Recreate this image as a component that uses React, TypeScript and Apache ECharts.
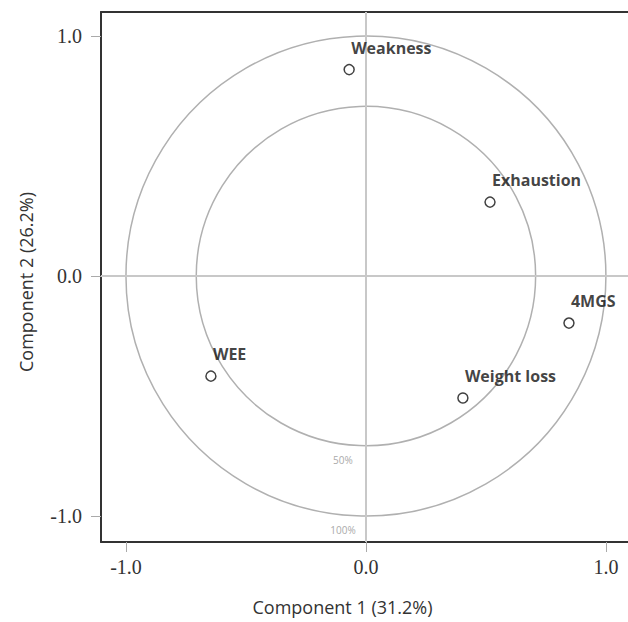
import React, { useEffect, useRef } from "react";
import * as echarts from "echarts";

const variables = ["Weakness", "Exhaustion", "4MGS", "Weight loss", "WEE"];
const comp1 = [-0.07, 0.517, 0.846, 0.404, -0.646];
const comp2 = [0.86, 0.308, -0.196, -0.508, -0.417];
const circleRadii = [1.0, 0.7071];
const circleLabels = ["100%", "50%"];
const tickValues = [-1, 0, 1];
const xAxisName = "Component 1 (31.2%)";
const yAxisName = "Component 2 (26.2%)";

export default function App() {
  const ref = useRef<HTMLDivElement>(null);
  useEffect(() => {
    const chart = echarts.init(ref.current!, null, { renderer: "svg" });
    const tickLabel = {
      fontFamily: "Liberation Serif",
      fontSize: 20,
      color: "#333",
      formatter: (v: number) => v.toFixed(1),
    };
    chart.setOption({
      animation: false,
      backgroundColor: "#fff",
      grid: { left: 101, right: 0, top: 12, bottom: 80 },
      xAxis: [
        {
          type: "value",
          min: -1.104,
          max: 1.092,
          name: xAxisName,
          nameLocation: "middle",
          nameGap: 56,
          nameTextStyle: { fontFamily: "Open Sans", fontSize: 18, color: "#333", padding: [0, 44, 0, 0] },
          axisLine: { show: true, onZero: false, lineStyle: { color: "#333", width: 2 } },
          axisTick: { show: true, length: 10, customValues: tickValues, lineStyle: { color: "#aaa" } },
          axisLabel: { ...tickLabel, margin: 15, customValues: tickValues },
          splitLine: { show: false },
        },
        {
          type: "value",
          position: "top",
          min: -1.104,
          max: 1.092,
          axisLine: { show: true, onZero: false, lineStyle: { color: "#333", width: 2 } },
          axisTick: { show: false },
          axisLabel: { show: false },
          splitLine: { show: false },
        },
      ],
      yAxis: {
        type: "value",
        min: -1.108,
        max: 1.1,
        name: yAxisName,
        nameLocation: "middle",
        nameGap: 66,
        nameTextStyle: { fontFamily: "Open Sans", fontSize: 18, color: "#333", padding: [0, 10, 0, 0] },
        axisLine: { show: true, onZero: false, lineStyle: { color: "#333", width: 2 } },
        axisTick: { show: true, length: 10, customValues: tickValues, lineStyle: { color: "#aaa" } },
        axisLabel: { ...tickLabel, margin: 19, customValues: tickValues },
        splitLine: { show: false },
      },
      series: [
        {
          type: "custom",
          silent: true,
          z: 1,
          data: circleRadii.map((r, i) => [0, 0, r, circleLabels[i]]),
          renderItem: (params: any, api: any) => {
            const c = api.coord([api.value(0), api.value(1)]);
            const r = api.size([api.value(2), 0])[0];
            const label = circleLabels[params.dataIndex];
            return {
              type: "group",
              children: [
                {
                  type: "circle",
                  shape: { cx: c[0], cy: c[1], r },
                  style: { fill: "none", stroke: "#b0b0b0", lineWidth: 1.5 },
                },
                {
                  type: "text",
                  x: c[0] - 23,
                  y: c[1] + r + 14,
                  style: {
                    text: label,
                    fill: "#aaa",
                    fontSize: 10,
                    fontFamily: "Open Sans",
                    align: "center",
                    verticalAlign: "middle",
                  },
                },
              ],
            };
          },
        },
        {
          type: "scatter",
          z: 5,
          symbol: "circle",
          symbolSize: 10,
          itemStyle: { color: "#fff", borderColor: "#111", borderWidth: 1.5 },
          data: variables.map((n, i) => ({ name: n, value: [comp1[i], comp2[i]] })),
          label: {
            show: true,
            position: "top",
            formatter: (p: any) => p.name,
            align: "left",
            offset: [2, -3],
            fontFamily: "Open Sans",
            fontWeight: "bold",
            fontSize: 16,
            color: "#111",
          },
          markLine: {
            silent: true,
            symbol: "none",
            label: { show: false },
            lineStyle: { color: "#c8c8c8", width: 2, type: "solid" },
            data: [{ xAxis: 0 }, { yAxis: 0 }],
          },
        },
      ],
    });
    return () => chart.dispose();
  }, []);
  return (
    <div
      ref={ref}
      style={{ position: "fixed", left: 0, top: 0, width: 628, height: 622 }}
    />
  );
}
